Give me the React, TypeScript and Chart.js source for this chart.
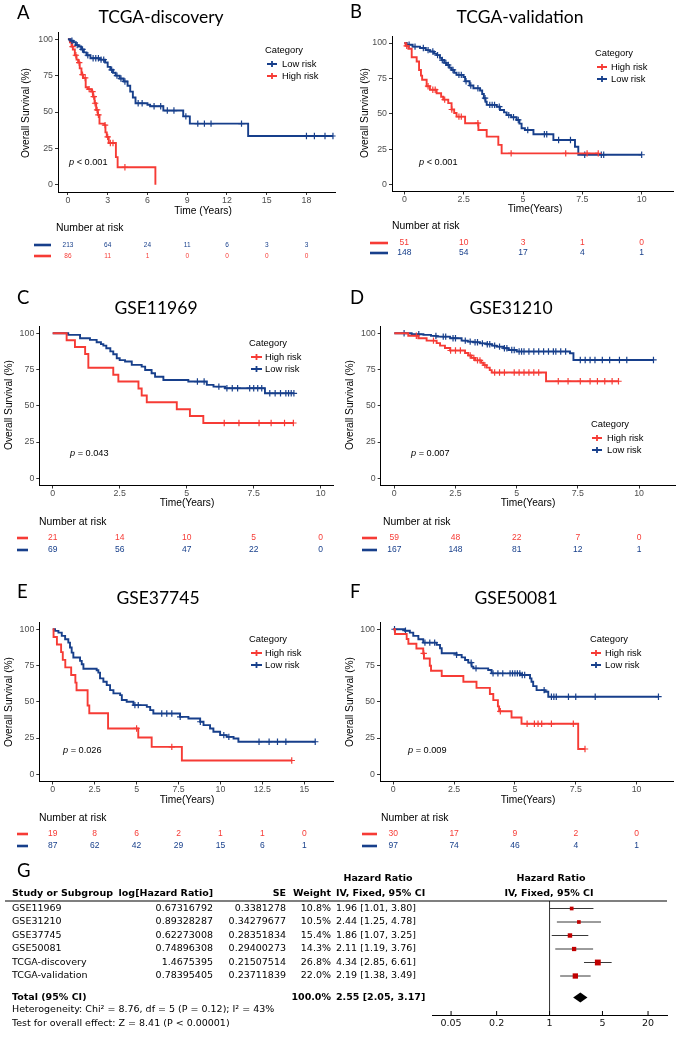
import React, { useEffect, useRef } from 'react';
import { Chart, registerables } from 'chart.js';
Chart.register(...registerables);

const RED = '#F63B35';
const BLUE = '#173F8B';
const SANS = "'Liberation Sans', Arial, sans-serif";
const HEAD = "Lato, 'Open Sans', sans-serif";
const TABLE = "'DejaVu Sans', Verdana, sans-serif";

// ---------- A: TCGA-discovery ----------
const aTimeTicks = [0, 3, 6, 9, 12, 15, 18];
const aLowTimes = [0, 0.2, 0.4, 0.6, 0.8, 1.0, 1.2, 1.4, 1.7, 2.4, 2.8, 3.0, 3.2, 3.4, 3.6, 3.9, 4.2, 4.5, 4.7, 4.9, 5.1, 6.0, 6.2, 7.2, 8.7, 9.2, 13.6];
const aLowSurv = [100, 99, 98, 96, 95, 93, 91, 89, 87, 86, 84, 81, 79, 77, 75, 73, 71, 68, 64, 60, 56, 55, 54, 51, 47, 42, 33.5];
const aLowCensor = [0.3, 0.7, 1.1, 1.5, 1.9, 2.1, 2.3, 2.5, 2.7, 3.3, 3.7, 4.0, 4.3, 5.3, 5.6, 6.5, 7.0, 7.5, 8.0, 8.9, 9.8, 10.3, 10.8, 13.1, 18.0, 18.6, 19.4, 20.0];
const aHighTimes = [0, 0.15, 0.27, 0.37, 0.52, 0.65, 0.77, 0.89, 1.02, 1.14, 1.34, 1.51, 1.76, 1.89, 2.01, 2.13, 2.26, 2.38, 2.75, 2.83, 2.93, 3.08, 3.62, 3.75, 6.6];
const aHighSurv = [100, 98, 95, 93, 89, 86, 84, 80, 75.7, 73.4, 67, 65.7, 64, 60.6, 56, 51.4, 48, 42, 41, 36, 32.9, 28.7, 19, 12, 0];
const aHighCensor = [0.35, 0.6, 0.85, 1.1, 1.3, 1.6, 1.85, 1.95, 2.05, 2.2, 2.3, 2.8, 3.0, 3.2, 3.4, 4.3];
const aRiskLow = [213, 64, 24, 11, 6, 3, 3];
const aRiskHigh = [86, 11, 1, 0, 0, 0, 0];

// ---------- B: TCGA-validation ----------
const bTimeTicks = [0, 2.5, 5, 7.5, 10];
const bLowTimes = [0, 0.1, 0.35, 0.66, 0.9, 1.08, 1.25, 1.36, 1.5, 1.57, 1.68, 1.78, 1.9, 1.99, 2.1, 2.2, 2.49, 2.56, 2.75, 2.91, 3.19, 3.28, 3.35, 3.42, 3.47, 3.89, 4.03, 4.2, 4.31, 4.5, 4.73, 4.85, 4.94, 5.08, 5.44, 6.28, 7.19, 7.33];
const bLowSurv = [100, 98.8, 97.5, 96.5, 95, 94, 92.5, 91.5, 89.5, 88, 86, 84.5, 82.5, 81, 79, 77.5, 76, 73, 70, 68, 66.5, 64, 61, 58.5, 56.3, 55, 52.7, 51, 49, 47.5, 45.6, 43, 39.7, 38.5, 35.5, 31.4, 26.7, 21];
const bLowCensor = [0.2, 0.45, 0.8, 1.0, 1.2, 1.4, 1.6, 1.75, 1.85, 2.05, 2.3, 2.4, 2.6, 2.8, 3.1, 3.4, 3.6, 3.7, 3.8, 4.0, 4.4, 4.6, 4.8, 5.2, 5.9, 6.0, 6.5, 7.0, 7.6, 8.3, 8.4, 10.0];
const bHighTimes = [0, 0.05, 0.17, 0.31, 0.52, 0.62, 0.7, 0.75, 0.94, 1.08, 1.36, 1.55, 1.64, 1.85, 1.99, 2.1, 2.2, 2.56, 3.12, 3.47, 3.96, 4.1];
const bHighSurv = [100, 98, 96, 90, 87, 81, 77, 74, 69.5, 67, 64.5, 62, 60, 57.5, 53, 50.5, 48, 43.3, 38.5, 33.8, 28, 22];
const bHighCensor = [0.1, 1.0, 1.2, 1.3, 1.7, 2.0, 2.3, 2.4, 3.1, 4.5, 6.8, 7.7, 8.17];
const bRiskHigh = [51, 10, 3, 1, 0];
const bRiskLow = [148, 54, 17, 4, 1];

// ---------- C: GSE11969 ----------
const cTimeTicks = [0, 2.5, 5, 7.5, 10];
const cHighTimes = [0, 0.52, 0.83, 1.21, 1.33, 2.26, 2.45, 3.2, 3.32, 3.51, 4.63, 5.12, 5.62];
const cHighSurv = [100, 95.2, 90.5, 85.7, 76.2, 71.4, 66.7, 61.9, 57.1, 52.4, 47.6, 42.9, 38.1];
const cHighCensor = [6.4, 6.95, 7.7, 8.15, 8.65, 8.98];
const cLowTimes = [0, 0.58, 1.02, 1.39, 1.64, 1.8, 1.89, 2.0, 2.15, 2.26, 2.39, 2.5, 2.7, 2.95, 3.32, 3.45, 3.69, 3.82, 4.13, 5.06, 5.75, 6.0, 6.43, 7.92];
const cLowSurv = [100, 98.9, 96.6, 95.4, 93.8, 92.5, 91.5, 89.7, 87.5, 85.5, 82.8, 81.5, 80.5, 78.2, 77, 74.7, 72.4, 70, 67.8, 66.7, 64.4, 63.2, 62.1, 58.6];
const cLowCensor = [5.4, 5.65, 6.2, 6.5, 6.7, 6.9, 7.35, 7.5, 7.65, 7.8, 8.1, 8.3, 8.5, 8.7, 8.8, 8.9, 9.0];
const cRiskHigh = [21, 14, 10, 5, 0];
const cRiskLow = [69, 56, 47, 22, 0];

// ---------- D: GSE31210 ----------
const dTimeTicks = [0, 2.5, 5, 7.5, 10];
const dHighTimes = [0, 0.57, 0.98, 1.32, 1.73, 1.87, 2.07, 2.28, 2.89, 3.02, 3.15, 3.3, 3.55, 3.64, 3.77, 3.9, 3.98, 6.2];
const dHighSurv = [100, 98.3, 96.6, 94.9, 93.2, 91.5, 89.8, 88.1, 86.4, 84.7, 83, 81.3, 79.7, 78, 76.3, 74.6, 72.9, 66.9];
const dHighCensor = [0.9, 1.6, 2.3, 2.5, 2.7, 3.1, 3.25, 3.4, 3.5, 3.7, 4.1, 4.3, 4.5, 4.9, 5.1, 5.3, 5.5, 5.7, 5.9, 6.7, 7.1, 7.6, 8.0, 8.3, 8.6, 8.9, 9.16];
const dLowTimes = [0, 0.71, 1.19, 1.5, 1.73, 2.28, 2.75, 3.0, 3.23, 3.5, 3.77, 4.0, 4.18, 4.46, 4.66, 5.0, 7.18, 7.32];
const dLowSurv = [100, 99.3, 98.9, 98.2, 97.7, 96.6, 94.9, 94.2, 93.8, 93, 92.4, 91.5, 90.8, 89.7, 88.5, 87.4, 86.2, 81.6];
const dLowCensor = [0.4, 1.0, 1.7, 2.0, 2.1, 2.4, 2.5, 2.9, 3.1, 3.3, 3.4, 3.6, 3.8, 3.9, 4.1, 4.3, 4.5, 4.6, 4.8, 4.9, 5.1, 5.2, 5.3, 5.5, 5.7, 5.9, 6.1, 6.3, 6.5, 6.6, 6.8, 7.0, 7.6, 7.8, 8.0, 8.2, 8.5, 8.8, 9.2, 9.5, 10.59];
const dRiskHigh = [59, 48, 22, 7, 0];
const dRiskLow = [167, 148, 81, 12, 1];

// ---------- E: GSE37745 ----------
const eTimeTicks = [0, 2.5, 5, 7.5, 10, 12.5, 15];
const eHighTimes = [0, 0.05, 0.25, 0.5, 0.6, 0.75, 1.1, 1.35, 1.42, 2.08, 2.18, 3.3, 5.1, 5.9, 7.7];
const eHighSurv = [100, 94.7, 89.5, 84.2, 78.9, 73.7, 68.4, 63.2, 57.9, 47.4, 42.1, 31.6, 25.3, 18.9, 9.5];
const eHighCensor = [5.0, 7.1, 14.25];
const eLowTimes = [0, 0.14, 0.34, 0.54, 0.74, 0.93, 1.03, 1.13, 1.23, 1.63, 1.73, 1.83, 2.62, 2.72, 2.82, 3.02, 3.22, 3.42, 3.62, 4.02, 4.12, 4.41, 4.81, 5.61, 5.81, 6.0, 7.59, 8.09, 8.79, 8.99, 9.38, 9.58, 9.98, 10.38, 10.78, 11.07];
const eLowSurv = [100, 98.9, 97.7, 95.4, 93.1, 90.8, 87.4, 83.9, 80.5, 78.2, 75.9, 72.8, 71.7, 70.1, 66.1, 63.8, 61.5, 58, 55.8, 54.6, 51.2, 50, 47.7, 46.5, 44.2, 41.9, 39.6, 38.5, 36.2, 33.9, 31.6, 29.3, 27, 25.8, 24.7, 22.4];
const eLowCensor = [4.9, 5.1, 6.5, 6.8, 7.1, 7.6, 8.8, 10.2, 10.5, 12.3, 12.9, 13.4, 13.9, 15.65];
const eRiskHigh = [19, 8, 6, 2, 1, 1, 0];
const eRiskLow = [87, 62, 42, 29, 15, 6, 1];

// ---------- F: GSE50081 ----------
const fTimeTicks = [0, 2.5, 5, 7.5, 10];
const fHighTimes = [0, 0.07, 0.55, 0.62, 0.95, 1.23, 1.26, 1.5, 1.55, 1.99, 2.88, 3.42, 3.97, 4.11, 4.3, 4.35, 4.86, 5.27, 7.6];
const fHighSurv = [100, 96.7, 93.3, 90, 86.7, 83.3, 79.8, 74.8, 71.4, 67.8, 63.8, 59.6, 55.3, 51.1, 46.8, 43.4, 39.1, 34.8, 17.4];
const fHighCensor = [1.25, 4.4, 5.5, 5.8, 5.95, 6.1, 6.5, 7.4, 7.88];
const fLowTimes = [0, 0.48, 0.68, 0.82, 1.03, 1.23, 1.78, 1.92, 1.99, 2.6, 2.81, 2.95, 3.08, 3.22, 3.29, 3.9, 4.04, 5.21, 5.62, 5.68, 5.75, 5.89, 6.23, 6.37];
const fLowSurv = [100, 99, 97.7, 95.4, 93.1, 90.8, 89.2, 86.9, 83.4, 82.3, 80.6, 78.8, 77, 74.2, 73, 71.9, 69.6, 68.4, 66.1, 63.8, 60.8, 58, 56.9, 53.5];
const fLowCensor = [0.05, 0.5, 1.3, 1.5, 1.7, 2.6, 3.2, 3.4, 4.1, 4.3, 4.5, 4.8, 4.9, 5.0, 5.1, 5.2, 5.3, 5.4, 6.2, 6.5, 6.6, 6.7, 7.2, 7.5, 8.3, 10.9];
const fRiskHigh = [30, 17, 9, 2, 0];
const fRiskLow = [97, 74, 46, 4, 1];

const survTicks = [0, 25, 50, 75, 100];

// ---------- G: forest plot ----------
const studyNames = ['GSE11969', 'GSE31210', 'GSE37745', 'GSE50081', 'TCGA-discovery', 'TCGA-validation'];
const logHR = [0.67316792, 0.89328287, 0.62273008, 0.74896308, 1.4675395, 0.78395405];
const seVals = [0.3381278, 0.34279677, 0.28351834, 0.29400273, 0.21507514, 0.23711839];
const weights = [10.8, 10.5, 15.4, 14.3, 26.8, 22.0];
const hrVals = [1.96, 2.44, 1.86, 2.11, 4.34, 2.19];
const ciLow = [1.01, 1.25, 1.07, 1.19, 2.85, 1.38];
const ciHigh = [3.8, 4.78, 3.25, 3.76, 6.61, 3.49];
const totalWeight = 100.0;
const totalHR = 2.55;
const totalLow = 2.05;
const totalHigh = 3.17;
const forestTicks = [0.05, 0.2, 1, 5, 20];
const heterogeneityText = 'Heterogeneity: Chi\u00B2 = 8.76, df = 5 (P = 0.12); I\u00B2 = 43%';
const overallText = 'Test for overall effect: Z = 8.41 (P < 0.00001)';

type Pt = { x: number; y: number; c: boolean };
function kmPoints(times: number[], surv: number[], censor: number[]): Pt[] {
  const pts: Pt[] = times.map((t, i) => ({ x: t, y: surv[i], c: false }));
  censor.forEach((t) => {
    let s = surv[0];
    for (let i = 0; i < times.length; i++) if (times[i] <= t) s = surv[i];
    pts.push({ x: t, y: s, c: true });
  });
  pts.sort((p, q) => p.x - q.x || (p.c ? 1 : 0) - (q.c ? 1 : 0));
  return pts;
}

const panels: any[] = [
  {
    letter: 'A', title: 'TCGA-discovery',
    box: { left: 0, top: 0, width: 340, height: 262 },
    area: { left: 58, top: 32, right: 339, bottom: 192 },
    xMin: -0.75, xMax: 20.2, xTicks: aTimeTicks, xTitle: 'Time (Years)',
    letterAt: [17, 13], titleAt: [161, 17], yTitleAt: [26, 113], xTitleAt: [203, 211],
    legendAt: [265, 50], legendRows: [64, 76], legendSym: [267, 277], legendText: 282,
    pRest: ' < 0.001', pAt: [69, 162],
    riskLabelAt: [56, 228], riskFont: 6.5, riskLines: [34, 51],
    risk: [{ color: BLUE, values: aRiskLow, y: 245 }, { color: RED, values: aRiskHigh, y: 256 }],
    series: [
      { label: 'Low risk', color: BLUE, times: aLowTimes, surv: aLowSurv, censor: aLowCensor },
      { label: 'High risk', color: RED, times: aHighTimes, surv: aHighSurv, censor: aHighCensor },
    ],
  },
  {
    letter: 'B', title: 'TCGA-validation',
    box: { left: 340, top: 0, width: 340, height: 262 },
    area: { left: 392, top: 36, right: 673, bottom: 191.5 },
    xMin: -0.52, xMax: 11.32, xTicks: bTimeTicks, xTitle: 'Time(Years)',
    letterAt: [350, 12], titleAt: [520, 17], yTitleAt: [365, 113], xTitleAt: [535, 209],
    legendAt: [595, 53], legendRows: [67, 79], legendSym: [597, 607], legendText: 611,
    pRest: ' < 0.001', pAt: [419, 162],
    riskLabelAt: [392, 226], riskFont: 8.5, riskLines: [370, 388],
    risk: [{ color: RED, values: bRiskHigh, y: 243 }, { color: BLUE, values: bRiskLow, y: 253 }],
    series: [
      { label: 'High risk', color: RED, times: bHighTimes, surv: bHighSurv, censor: bHighCensor },
      { label: 'Low risk', color: BLUE, times: bLowTimes, surv: bLowSurv, censor: bLowCensor },
    ],
  },
  {
    letter: 'C', title: 'GSE11969',
    box: { left: 0, top: 262, width: 340, height: 300 },
    area: { left: 39.3, top: 326, right: 333.3, bottom: 485.5 },
    xMin: -0.5, xMax: 10.47, xTicks: cTimeTicks, xTitle: 'Time(Years)',
    letterAt: [17, 298.5], titleAt: [156, 308.5], yTitleAt: [9, 405], xTitleAt: [187, 503],
    legendAt: [249, 343], legendRows: [357, 369], legendSym: [251, 262], legendText: 265,
    pRest: ' = 0.043', pAt: [70, 453],
    riskLabelAt: [39, 522], riskFont: 8.5, riskLines: [17, 28],
    risk: [{ color: RED, values: cRiskHigh, y: 538 }, { color: BLUE, values: cRiskLow, y: 550 }],
    series: [
      { label: 'High risk', color: RED, times: cHighTimes, surv: cHighSurv, censor: cHighCensor },
      { label: 'Low risk', color: BLUE, times: cLowTimes, surv: cLowSurv, censor: cLowCensor },
    ],
  },
  {
    letter: 'D', title: 'GSE31210',
    box: { left: 340, top: 262, width: 340, height: 300 },
    area: { left: 380.7, top: 326, right: 675, bottom: 485.5 },
    xMin: -0.556, xMax: 11.47, xTicks: dTimeTicks, xTitle: 'Time(Years)',
    letterAt: [350, 298.5], titleAt: [511, 308.5], yTitleAt: [350, 405], xTitleAt: [528, 503],
    legendAt: [591, 424], legendRows: [438, 450], legendSym: [592, 602], legendText: 607,
    pRest: ' = 0.007', pAt: [411, 453],
    riskLabelAt: [383, 522], riskFont: 8.5, riskLines: [362, 377],
    risk: [{ color: RED, values: dRiskHigh, y: 538 }, { color: BLUE, values: dRiskLow, y: 550 }],
    series: [
      { label: 'High risk', color: RED, times: dHighTimes, surv: dHighSurv, censor: dHighCensor },
      { label: 'Low risk', color: BLUE, times: dLowTimes, surv: dLowSurv, censor: dLowCensor },
    ],
  },
  {
    letter: 'E', title: 'GSE37745',
    box: { left: 0, top: 570, width: 340, height: 290 },
    area: { left: 39.3, top: 622, right: 333, bottom: 781.5 },
    xMin: -0.8, xMax: 16.71, xTicks: eTimeTicks, xTitle: 'Time(Years)',
    letterAt: [17, 592.5], titleAt: [158, 598], yTitleAt: [9, 702], xTitleAt: [187, 800],
    legendAt: [249, 639], legendRows: [653, 665], legendSym: [251, 262], legendText: 265,
    pRest: ' = 0.026', pAt: [63, 750],
    riskLabelAt: [39, 818], riskFont: 8.5, riskLines: [17, 28],
    risk: [{ color: RED, values: eRiskHigh, y: 834 }, { color: BLUE, values: eRiskLow, y: 846 }],
    series: [
      { label: 'High risk', color: RED, times: eHighTimes, surv: eHighSurv, censor: eHighCensor },
      { label: 'Low risk', color: BLUE, times: eLowTimes, surv: eLowSurv, censor: eLowCensor },
    ],
  },
  {
    letter: 'F', title: 'GSE50081',
    box: { left: 340, top: 570, width: 340, height: 290 },
    area: { left: 380, top: 622, right: 673.3, bottom: 781.5 },
    xMin: -0.547, xMax: 11.51, xTicks: fTimeTicks, xTitle: 'Time(Years)',
    letterAt: [350, 592.5], titleAt: [516, 598], yTitleAt: [350, 702], xTitleAt: [528, 800],
    legendAt: [590, 639], legendRows: [653, 665], legendSym: [591, 601], legendText: 605,
    pRest: ' = 0.009', pAt: [408, 750],
    riskLabelAt: [381, 818], riskFont: 8.5, riskLines: [362, 377],
    risk: [{ color: RED, values: fRiskHigh, y: 834 }, { color: BLUE, values: fRiskLow, y: 846 }],
    series: [
      { label: 'High risk', color: RED, times: fHighTimes, surv: fHighSurv, censor: fHighCensor },
      { label: 'Low risk', color: BLUE, times: fLowTimes, surv: fLowSurv, censor: fLowCensor },
    ],
  },
];

function kmDecor(cfg: any) {
  return {
    id: 'kmDecor',
    afterDraw(chart: any) {
      const ctx = chart.ctx;
      const ox = cfg.box.left;
      const oy = cfg.box.top;
      ctx.save();
      ctx.textBaseline = 'middle';
      ctx.fillStyle = '#000';
      // panel letter + title
      ctx.font = `18.5px ${HEAD}`;
      ctx.textAlign = 'left';
      ctx.fillText(cfg.letter, cfg.letterAt[0] - ox, cfg.letterAt[1] - oy);
      ctx.font = `17.5px ${HEAD}`;
      ctx.textAlign = 'center';
      ctx.fillText(cfg.title, cfg.titleAt[0] - ox, cfg.titleAt[1] - oy);
      // axis titles
      ctx.font = `10.2px ${SANS}`;
      ctx.save();
      ctx.translate(cfg.yTitleAt[0] - ox, cfg.yTitleAt[1] - oy);
      ctx.rotate(-Math.PI / 2);
      ctx.fillText('Overall Survival (%)', 0, 0);
      ctx.restore();
      ctx.fillText(cfg.xTitle, cfg.xTitleAt[0] - ox, cfg.xTitleAt[1] - oy);
      // legend
      ctx.textAlign = 'left';
      ctx.font = `9.4px ${SANS}`;
      ctx.fillText('Category', cfg.legendAt[0] - ox, cfg.legendAt[1] - oy);
      cfg.series.forEach((s: any, i: number) => {
        const y = cfg.legendRows[i] - oy;
        const x1 = cfg.legendSym[0] - ox;
        const x2 = cfg.legendSym[1] - ox;
        ctx.strokeStyle = s.color;
        ctx.lineWidth = 1.8;
        ctx.beginPath();
        ctx.moveTo(x1, y);
        ctx.lineTo(x2, y);
        const xm = (x1 + x2) / 2;
        ctx.moveTo(xm, y - 3);
        ctx.lineTo(xm, y + 3);
        ctx.stroke();
        ctx.fillStyle = '#000';
        ctx.fillText(s.label, cfg.legendText - ox, y);
      });
      // p value
      ctx.font = `italic 9.2px ${SANS}`;
      ctx.fillText('p', cfg.pAt[0] - ox, cfg.pAt[1] - oy);
      const pw = ctx.measureText('p').width;
      ctx.font = `9.2px ${SANS}`;
      ctx.fillText(cfg.pRest, cfg.pAt[0] - ox + pw, cfg.pAt[1] - oy);
      // risk table
      ctx.font = `10.4px ${SANS}`;
      ctx.fillText('Number at risk', cfg.riskLabelAt[0] - ox, cfg.riskLabelAt[1] - oy);
      const xs = chart.scales.x;
      cfg.risk.forEach((row: any) => {
        const y = row.y - oy;
        ctx.strokeStyle = row.color;
        ctx.lineWidth = 2.6;
        ctx.beginPath();
        ctx.moveTo(cfg.riskLines[0] - ox, y);
        ctx.lineTo(cfg.riskLines[1] - ox, y);
        ctx.stroke();
        ctx.fillStyle = row.color;
        ctx.textAlign = 'center';
        ctx.font = `${cfg.riskFont}px ${SANS}`;
        row.values.forEach((v: number, i: number) => {
          ctx.fillText(String(v), xs.getPixelForValue(cfg.xTicks[i]), y);
        });
      });
      ctx.restore();
    },
  };
}

function KMPanel({ cfg }: { cfg: any }) {
  const ref = useRef<HTMLCanvasElement>(null);
  useEffect(() => {
    const { box, area } = cfg;
    const YW = 25;
    const XH = 16;
    const chart = new Chart(ref.current as HTMLCanvasElement, {
      type: 'line',
      data: {
        datasets: cfg.series.map((s: any) => ({
          label: s.label,
          data: kmPoints(s.times, s.surv, s.censor),
          borderColor: s.color,
          backgroundColor: s.color,
          borderWidth: 1.9,
          stepped: true,
          fill: false,
          tension: 0,
          pointStyle: 'cross',
          pointRadius: (c: any) => (c.raw && c.raw.c ? 3.2 : 0),
          pointHoverRadius: 0,
          pointBorderWidth: 1.2,
          pointBorderColor: s.color,
        })),
      },
      options: {
        responsive: false,
        animation: false,
        events: [],
        layout: {
          padding: {
            left: area.left - box.left - YW,
            top: area.top - box.top,
            right: box.left + box.width - area.right,
            bottom: box.top + box.height - area.bottom - XH,
          },
        },
        plugins: { legend: { display: false }, tooltip: { enabled: false }, title: { display: false } },
        scales: {
          x: {
            type: 'linear',
            min: cfg.xMin,
            max: cfg.xMax,
            afterBuildTicks: (s: any) => { s.ticks = cfg.xTicks.map((v: number) => ({ value: v })); },
            afterFit: (s: any) => { s.height = XH; },
            ticks: { font: { family: SANS, size: 8.8 }, color: '#4D4D4D', padding: 0, maxRotation: 0, autoSkip: false, callback: (v: any) => String(v) },
            grid: { display: true, drawOnChartArea: false, drawTicks: true, tickLength: 3, color: '#333' },
            border: { display: true, color: '#000', width: 1 },
          },
          y: {
            type: 'linear',
            min: -5,
            max: 105,
            afterBuildTicks: (s: any) => { s.ticks = survTicks.map((v) => ({ value: v })); },
            afterFit: (s: any) => { s.width = YW; },
            ticks: { font: { family: SANS, size: 8.8 }, color: '#4D4D4D', padding: 2, autoSkip: false, callback: (v: any) => String(v) },
            grid: { display: true, drawOnChartArea: false, drawTicks: true, tickLength: 3, color: '#333' },
            border: { display: true, color: '#000', width: 1 },
          },
        },
      } as any,
      plugins: [kmDecor(cfg)],
    });
    return () => chart.destroy();
  }, []);
  const b = cfg.box;
  return (
    <canvas
      ref={ref}
      width={b.width}
      height={b.height}
      style={{ position: 'absolute', left: b.left, top: b.top, width: b.width, height: b.height }}
    />
  );
}

const forestBox = { left: 0, top: 860, width: 680, height: 179 };
const forestArea = { left: 432, top: 901, right: 667, bottom: 1015 };
const rowY0 = 908.5;
const rowStep = 13.5;
const totalRowIndex = 6.6;

function forestDecor() {
  return {
    id: 'forestDecor',
    beforeDatasetsDraw(chart: any) {
      const ctx = chart.ctx;
      const xs = chart.scales.x;
      const ys = chart.scales.y;
      const ca = chart.chartArea;
      ctx.save();
      ctx.strokeStyle = '#333';
      ctx.lineWidth = 1;
      ctx.beginPath();
      const x1 = xs.getPixelForValue(1);
      ctx.moveTo(x1, ca.top);
      ctx.lineTo(x1, ca.bottom);
      ctx.stroke();
      ctx.strokeStyle = '#222';
      ctx.lineWidth = 0.9;
      hrVals.forEach((_, i) => {
        const y = ys.getPixelForValue(i);
        ctx.beginPath();
        ctx.moveTo(xs.getPixelForValue(ciLow[i]), y);
        ctx.lineTo(xs.getPixelForValue(ciHigh[i]), y);
        ctx.stroke();
      });
      ctx.restore();
    },
    afterDraw(chart: any) {
      const ctx = chart.ctx;
      const xs = chart.scales.x;
      const ys = chart.scales.y;
      const ca = chart.chartArea;
      const oy = forestBox.top;
      ctx.save();
      const yt = ys.getPixelForValue(totalRowIndex);
      ctx.fillStyle = '#000';
      ctx.beginPath();
      ctx.moveTo(xs.getPixelForValue(totalLow), yt);
      ctx.lineTo(xs.getPixelForValue(totalHR), yt - 5);
      ctx.lineTo(xs.getPixelForValue(totalHigh), yt);
      ctx.lineTo(xs.getPixelForValue(totalHR), yt + 5);
      ctx.closePath();
      ctx.fill();
      ctx.strokeStyle = '#000';
      ctx.lineWidth = 1;
      forestTicks.forEach((t) => {
        const x = xs.getPixelForValue(t);
        ctx.beginPath();
        ctx.moveTo(x, ca.bottom);
        ctx.lineTo(x, ca.bottom - 4);
        ctx.stroke();
      });
      ctx.lineWidth = 1.2;
      ctx.beginPath();
      ctx.moveTo(5, ca.top);
      ctx.lineTo(ca.right, ca.top);
      ctx.stroke();
      ctx.textBaseline = 'middle';
      ctx.fillStyle = '#000';
      ctx.font = `18.5px ${HEAD}`;
      ctx.textAlign = 'left';
      ctx.fillText('G', 17, 871 - oy);
      const bold = `bold 9.5px ${TABLE}`;
      const norm = `9.5px ${TABLE}`;
      ctx.font = bold;
      ctx.textAlign = 'center';
      ctx.fillText('Hazard Ratio', 378, 879 - oy);
      ctx.fillText('Hazard Ratio', 551, 879 - oy);
      ctx.fillText('IV, Fixed, 95% CI', 549, 894 - oy);
      ctx.textAlign = 'left';
      ctx.fillText('Study or Subgroup', 12, 894 - oy);
      ctx.fillText('IV, Fixed, 95% CI', 336, 894 - oy);
      ctx.textAlign = 'right';
      ctx.fillText('log[Hazard Ratio]', 213, 894 - oy);
      ctx.fillText('SE', 286, 894 - oy);
      ctx.fillText('Weight', 331, 894 - oy);
      ctx.font = norm;
      studyNames.forEach((name, i) => {
        const y = ys.getPixelForValue(i);
        ctx.textAlign = 'left';
        ctx.fillText(name, 12, y);
        ctx.fillText(`${hrVals[i].toFixed(2)} [${ciLow[i].toFixed(2)}, ${ciHigh[i].toFixed(2)}]`, 336, y);
        ctx.textAlign = 'right';
        ctx.fillText(String(logHR[i]), 213, y);
        ctx.fillText(String(seVals[i]), 286, y);
        ctx.fillText(`${weights[i].toFixed(1)}%`, 331, y);
      });
      ctx.font = bold;
      ctx.textAlign = 'left';
      ctx.fillText('Total (95% CI)', 12, yt);
      ctx.fillText(`${totalHR.toFixed(2)} [${totalLow.toFixed(2)}, ${totalHigh.toFixed(2)}]`, 336, yt);
      ctx.textAlign = 'right';
      ctx.fillText(`${totalWeight.toFixed(1)}%`, 331, yt);
      ctx.font = norm;
      ctx.textAlign = 'left';
      ctx.fillText(heterogeneityText, 12, 1010 - oy);
      ctx.fillText(overallText, 12, 1024 - oy);
      ctx.restore();
    },
  };
}

function ForestPanel() {
  const ref = useRef<HTMLCanvasElement>(null);
  useEffect(() => {
    const b = forestBox;
    const a = forestArea;
    const XH = b.top + b.height - a.bottom;
    const chart = new Chart(ref.current as HTMLCanvasElement, {
      type: 'scatter',
      data: {
        datasets: [
          {
            label: 'Hazard Ratio',
            data: hrVals.map((h, i) => ({ x: h, y: i })),
            pointStyle: 'rect',
            pointRadius: (c: any) => 0.8 * Math.sqrt(weights[c.dataIndex]),
            pointHoverRadius: 0,
            backgroundColor: '#C00000',
            borderColor: '#C00000',
            borderWidth: 0,
          },
        ],
      },
      options: {
        responsive: false,
        animation: false,
        events: [],
        layout: { padding: { left: a.left - b.left, top: a.top - b.top, right: b.left + b.width - a.right, bottom: 0 } },
        plugins: { legend: { display: false }, tooltip: { enabled: false } },
        scales: {
          x: {
            type: 'logarithmic',
            min: 0.028,
            max: 35.6,
            afterBuildTicks: (s: any) => { s.ticks = forestTicks.map((v) => ({ value: v })); },
            afterFit: (s: any) => { s.height = XH; },
            ticks: { font: { family: TABLE, size: 9.5 }, color: '#111', padding: 3, maxRotation: 0, autoSkip: false, callback: (v: any) => String(v) },
            grid: { display: false, drawTicks: false },
            border: { display: true, color: '#000', width: 1 },
          },
          y: {
            type: 'linear',
            display: false,
            reverse: true,
            min: (a.top - rowY0) / rowStep,
            max: (a.bottom - rowY0) / rowStep,
          },
        },
      } as any,
      plugins: [forestDecor()],
    });
    return () => chart.destroy();
  }, []);
  const b = forestBox;
  return (
    <canvas
      ref={ref}
      width={b.width}
      height={b.height}
      style={{ position: 'absolute', left: b.left, top: b.top, width: b.width, height: b.height }}
    />
  );
}

export default function App() {
  return (
    <div style={{ position: 'absolute', left: 0, top: 0, width: 680, height: 1039, background: '#fff', overflow: 'hidden' }}>
      {panels.map((p) => (
        <KMPanel key={p.letter} cfg={p} />
      ))}
      <ForestPanel />
    </div>
  );
}
